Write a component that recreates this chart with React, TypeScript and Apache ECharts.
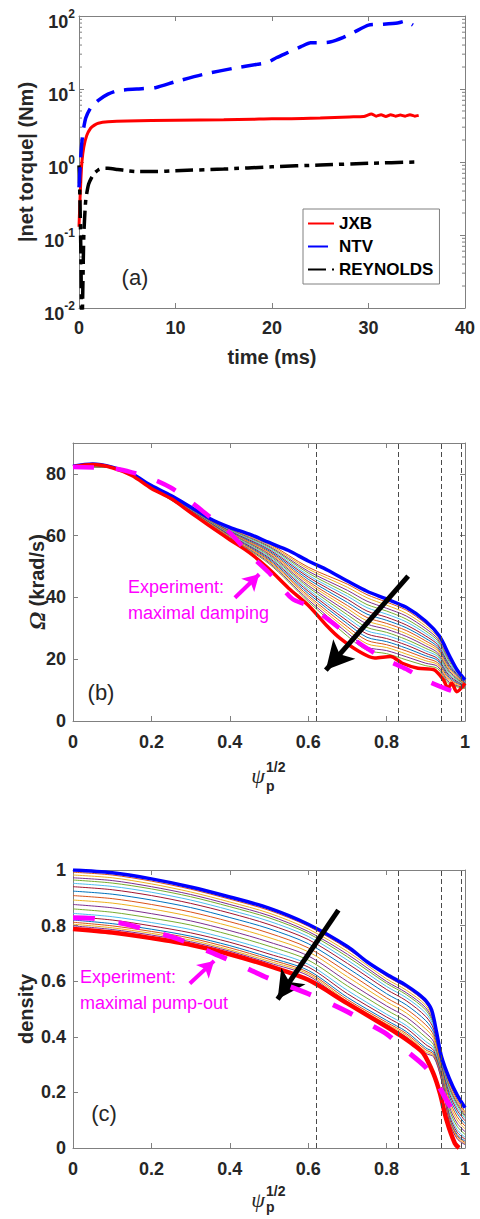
import React, { useEffect, useRef } from 'react';
import * as echarts from 'echarts';

// ---------------- Panel (a): |net torque| vs time ----------------
const timeTicks = [0, 10, 20, 30, 40];
const jxbTime = [0, 0.1, 0.2, 0.3, 0.5, 0.8, 1.2, 1.6, 2, 3, 5, 10, 15, 18, 20, 22, 25, 28, 29.5, 30.3, 30.8, 31.3, 31.8, 32.3, 32.8, 33.3, 33.8, 34.3, 34.8, 35.2];
const jxbTorque = [0.13, 0.3, 0.6, 1.0, 1.6, 2.3, 2.9, 3.2, 3.4, 3.55, 3.65, 3.72, 3.78, 3.85, 3.92, 3.92, 4.0, 4.15, 4.2, 4.55, 4.25, 4.45, 4.2, 4.45, 4.25, 4.4, 4.25, 4.45, 4.25, 4.35];
const ntvTime = [0, 0.2, 0.4, 0.7, 1.2, 2, 3, 4, 6, 8, 10, 13, 16, 18.5, 19.5, 20.5, 21.5, 23, 24, 25, 26, 27.4, 28.5, 30, 31.5, 33, 33.8, 34.6];
const ntvTorque = [0.45, 1.3, 2.5, 4, 5.5, 7, 8.5, 9.5, 10, 10.5, 12.6, 16, 19.2, 21.8, 23, 27, 31, 38, 43, 43, 44, 51, 60, 75, 77, 80, 85, 75];
const reyTime = [0, 0.1, 0.2, 0.3, 0.4, 0.5, 0.7, 1, 1.5, 2, 2.5, 3, 4, 5, 6, 8, 10, 15, 20, 25, 30, 35];
const reyTorque = [0.9, 0.3, 0.05, 0.004, 0.02, 0.1, 0.3, 0.5, 0.68, 0.78, 0.82, 0.82, 0.79, 0.76, 0.74, 0.74, 0.76, 0.8, 0.86, 0.91, 0.96, 1.0];
const logMinorTicks = [0.02, 0.03, 0.04, 0.05, 0.06, 0.07, 0.08, 0.09, 0.2, 0.3, 0.4, 0.5, 0.6, 0.7, 0.8, 0.9, 2, 3, 4, 5, 6, 7, 8, 9, 20, 30, 40, 50, 60, 70, 80, 90];

// ---------------- Panel (b): rotation profiles ----------------
const radialLines = [0.623, 0.833, 0.938, 0.995];
const omBlueX = [0, 0.05, 0.1, 0.15, 0.2, 0.25, 0.3, 0.35, 0.4, 0.45, 0.5, 0.55, 0.6, 0.65, 0.7, 0.75, 0.8, 0.85, 0.9, 0.935, 0.96, 0.98, 1.0];
const omBlue = [82.5, 83.2, 82.2, 80.0, 76.2, 73.0, 69.3, 65.5, 62.7, 60.5, 57.8, 55.2, 51.8, 48.8, 45.3, 42.0, 39.5, 36.8, 32.3, 27.4, 21.2, 16.5, 13.3];
const omRedX = [0, 0.05, 0.1, 0.15, 0.2, 0.25, 0.3, 0.35, 0.4, 0.45, 0.5, 0.55, 0.6, 0.65, 0.68, 0.73, 0.77, 0.81, 0.84, 0.88, 0.92, 0.945, 0.957, 0.966, 0.979, 1.0];
const omRed = [82.3, 83.0, 82.0, 79.5, 75.3, 72.0, 67.5, 63.0, 58.7, 54.5, 49.2, 43.0, 37.5, 30.5, 26.9, 22.5, 20.4, 20.9, 18.7, 17.1, 16.6, 13.3, 10.6, 12.2, 9.5, 12.2];
const omExpX = [0, 0.1, 0.15, 0.2, 0.25, 0.3, 0.35, 0.4, 0.45, 0.5, 0.53, 0.56, 0.6, 0.65, 0.7, 0.75, 0.8, 0.85, 0.9, 0.95, 1.0];
const omExp = [82.2, 81.8, 80.5, 78.5, 75.5, 71.0, 66.0, 61.0, 54.0, 48.0, 43.6, 39.5, 37.3, 33.0, 28.0, 23.5, 19.8, 16.8, 13.2, 10.5, 8.3];
const omThinX = [0, 0.1, 0.2, 0.3, 0.4, 0.5, 0.6, 0.7, 0.75, 0.8, 0.85, 0.9, 0.93, 0.96, 1.0];
const omThin = [
  [82.5, 82.2, 76.2, 69.2, 62.5, 57.4, 49.8, 44.3, 40.9, 38.5, 35.9, 31.5, 27.9, 20.7, 13.1],
  [82.5, 82.2, 76.1, 69.1, 62.3, 57.0, 49.2, 43.3, 39.9, 37.5, 34.9, 30.7, 27.2, 20.2, 12.9],
  [82.5, 82.2, 76.1, 69.0, 62.1, 56.6, 48.5, 42.3, 38.8, 36.5, 34.0, 29.9, 26.6, 19.7, 12.8],
  [82.5, 82.2, 76.0, 68.9, 61.9, 56.3, 47.9, 41.3, 37.7, 35.6, 33.0, 29.1, 26.0, 19.2, 12.6],
  [82.5, 82.2, 76.0, 68.8, 61.7, 55.9, 47.2, 40.4, 36.7, 34.6, 32.1, 28.3, 25.3, 18.6, 12.5],
  [82.5, 82.2, 75.9, 68.7, 61.5, 55.5, 46.6, 39.4, 35.6, 33.6, 31.1, 27.5, 24.7, 18.1, 12.3],
  [82.5, 82.2, 75.9, 68.6, 61.3, 55.1, 45.9, 38.4, 34.6, 32.6, 30.2, 26.7, 24.0, 17.6, 12.2],
  [82.5, 82.2, 75.8, 68.5, 61.1, 54.7, 45.2, 37.4, 33.5, 31.6, 29.3, 25.9, 23.4, 17.1, 12.0],
  [82.5, 82.2, 75.8, 68.4, 61.0, 54.3, 44.6, 36.4, 32.4, 30.6, 28.3, 25.1, 22.8, 16.6, 11.9],
  [82.4, 82.1, 75.7, 68.4, 60.8, 54.0, 43.9, 35.4, 31.4, 29.7, 27.4, 24.3, 22.1, 16.1, 11.7],
  [82.4, 82.1, 75.7, 68.3, 60.6, 53.6, 43.3, 34.4, 30.3, 28.7, 26.4, 23.5, 21.5, 15.6, 11.6],
  [82.4, 82.1, 75.6, 68.2, 60.4, 53.2, 42.6, 33.4, 29.2, 27.7, 25.5, 22.7, 20.9, 15.1, 11.4],
  [82.4, 82.1, 75.6, 68.1, 60.2, 52.8, 42.0, 32.4, 28.2, 26.7, 24.6, 21.9, 20.2, 14.6, 11.3],
  [82.4, 82.1, 75.5, 68.0, 60.0, 52.4, 41.3, 31.5, 27.1, 25.7, 23.6, 21.1, 19.6, 14.1, 11.1],
  [82.4, 82.1, 75.5, 67.9, 59.8, 52.0, 40.6, 30.5, 26.1, 24.7, 22.7, 20.3, 18.9, 13.6, 11.0],
  [82.4, 82.1, 75.4, 67.8, 59.6, 51.7, 40.0, 29.5, 25.0, 23.8, 21.7, 19.5, 18.3, 13.0, 10.8],
  [82.4, 82.1, 75.4, 67.7, 59.4, 51.3, 39.3, 28.5, 23.9, 22.8, 20.8, 18.7, 17.7, 12.5, 10.7],
  [82.4, 82.1, 75.3, 67.6, 59.2, 50.9, 38.7, 27.5, 22.9, 21.8, 19.8, 17.9, 17.0, 12.0, 10.5],
];
const omArrowBlack = [[0.855, 46.9], [0.645, 16.5]];
const omArrowExp = [[0.413, 39.9], [0.475, 47.5]];

// ---------------- Panel (c): density profiles ----------------
const denBlueX = [0, 0.1, 0.2, 0.3, 0.4, 0.5, 0.6, 0.7, 0.75, 0.8, 0.85, 0.88, 0.9, 0.915, 0.928, 0.94, 0.96, 0.98, 1.0];
const denBlue = [1.0, 0.99, 0.968, 0.939, 0.903, 0.863, 0.805, 0.725, 0.67, 0.625, 0.585, 0.555, 0.53, 0.496, 0.413, 0.329, 0.25, 0.19, 0.145];
const denRedX = [0, 0.1, 0.2, 0.3, 0.4, 0.5, 0.6, 0.7, 0.8, 0.834, 0.87, 0.894, 0.919, 0.936, 0.953, 0.974, 0.985];
const denRed = [0.788, 0.775, 0.755, 0.731, 0.697, 0.655, 0.605, 0.52, 0.436, 0.406, 0.37, 0.34, 0.269, 0.197, 0.1, 0.017, 0.0];
const denExpX = [0, 0.05, 0.1, 0.15, 0.2, 0.25, 0.3, 0.35, 0.4, 0.5, 0.6, 0.7, 0.75, 0.8, 0.85, 0.9, 0.93, 0.96, 1.0];
const denExp = [0.828, 0.826, 0.815, 0.8, 0.78, 0.76, 0.735, 0.705, 0.675, 0.61, 0.555, 0.49, 0.45, 0.41, 0.35, 0.29, 0.23, 0.155, 0.08];
const denThinX = [0, 0.1, 0.2, 0.3, 0.4, 0.5, 0.6, 0.7, 0.8, 0.85, 0.9, 0.92, 0.94, 0.96, 0.98, 1.0];
const denThin = [
  [0.992, 0.982, 0.960, 0.931, 0.895, 0.855, 0.798, 0.717, 0.618, 0.578, 0.522, 0.464, 0.317, 0.234, 0.174, 0.130],
  [0.982, 0.972, 0.950, 0.921, 0.885, 0.845, 0.788, 0.707, 0.608, 0.568, 0.513, 0.457, 0.313, 0.227, 0.167, 0.124],
  [0.972, 0.962, 0.940, 0.912, 0.876, 0.836, 0.779, 0.697, 0.599, 0.559, 0.504, 0.450, 0.309, 0.220, 0.160, 0.118],
  [0.964, 0.953, 0.932, 0.904, 0.868, 0.828, 0.772, 0.688, 0.592, 0.552, 0.496, 0.444, 0.306, 0.214, 0.154, 0.113],
  [0.952, 0.941, 0.920, 0.892, 0.856, 0.816, 0.761, 0.676, 0.581, 0.541, 0.485, 0.436, 0.302, 0.205, 0.145, 0.106],
  [0.940, 0.929, 0.908, 0.880, 0.845, 0.804, 0.750, 0.664, 0.570, 0.530, 0.473, 0.428, 0.297, 0.196, 0.136, 0.098],
  [0.924, 0.913, 0.892, 0.865, 0.829, 0.789, 0.735, 0.648, 0.555, 0.515, 0.458, 0.416, 0.291, 0.185, 0.125, 0.088],
  [0.908, 0.897, 0.876, 0.849, 0.814, 0.773, 0.720, 0.632, 0.540, 0.500, 0.443, 0.405, 0.285, 0.173, 0.113, 0.079],
  [0.892, 0.881, 0.860, 0.833, 0.798, 0.757, 0.706, 0.616, 0.526, 0.486, 0.428, 0.394, 0.279, 0.161, 0.101, 0.069],
  [0.876, 0.864, 0.843, 0.817, 0.782, 0.741, 0.691, 0.599, 0.511, 0.471, 0.413, 0.382, 0.273, 0.149, 0.089, 0.059],
  [0.860, 0.848, 0.827, 0.802, 0.767, 0.726, 0.676, 0.583, 0.496, 0.456, 0.398, 0.371, 0.267, 0.138, 0.078, 0.049],
  [0.844, 0.832, 0.811, 0.786, 0.751, 0.710, 0.661, 0.567, 0.481, 0.441, 0.383, 0.360, 0.261, 0.126, 0.066, 0.039],
  [0.832, 0.820, 0.799, 0.774, 0.740, 0.698, 0.651, 0.555, 0.471, 0.431, 0.372, 0.351, 0.257, 0.117, 0.057, 0.032],
  [0.820, 0.807, 0.787, 0.762, 0.728, 0.686, 0.639, 0.542, 0.459, 0.419, 0.360, 0.343, 0.252, 0.108, 0.048, 0.025],
  [0.812, 0.799, 0.779, 0.755, 0.720, 0.679, 0.632, 0.534, 0.452, 0.412, 0.353, 0.337, 0.249, 0.103, 0.043, 0.020],
  [0.805, 0.792, 0.772, 0.748, 0.713, 0.672, 0.626, 0.527, 0.446, 0.406, 0.346, 0.332, 0.246, 0.097, 0.037, 0.015],
  [0.799, 0.786, 0.766, 0.742, 0.708, 0.666, 0.620, 0.521, 0.440, 0.400, 0.340, 0.328, 0.244, 0.093, 0.033, 0.012],
];
const denArrowBlack = [[0.677, 0.856], [0.522, 0.535]];
const denArrowExp = [[0.298, 0.592], [0.36, 0.673]];

const matlabOrder = ['#D95319', '#EDB120', '#7E2F8E', '#77AC30', '#4DBEEE', '#A2142F', '#0072BD'];

const FONT = 'Liberation Sans, Arial, Helvetica, sans-serif';
const AXIS = '#808080';
const LABEL = '#262626';

const zip = (xs: number[], ys: number[]) => xs.map((x, i) => [x, ys[i]]);

function boxAxes(gridIndex: number, kind: 'x' | 'y', main: any, extra: any) {
  const common = {
    gridIndex,
    axisLine: { show: true, onZero: false, lineStyle: { color: AXIS, width: 1 } },
    axisTick: { show: true, inside: true, length: 5, lineStyle: { color: AXIS, width: 1 } },
    splitLine: { show: false },
    nameMoveOverlap: false,
    ...main,
  };
  const primary = {
    ...common,
    position: kind === 'x' ? 'bottom' : 'left',
    ...extra,
  };
  const mirror = {
    ...common,
    position: kind === 'x' ? 'top' : 'right',
    axisLabel: { show: false },
    name: '',
  };
  return [primary, mirror];
}

const tickLabel = (margin: number) => ({
  margin,
  fontFamily: FONT,
  fontWeight: 'bold',
  fontSize: 18,
  color: LABEL,
});

const titleStyle = { fontFamily: FONT, fontWeight: 'bold', fontSize: 20, color: LABEL };

export default function App() {
  const ref = useRef<HTMLDivElement>(null);

  useEffect(() => {
    if (!ref.current) return;
    const chart = echarts.init(ref.current, undefined, { renderer: 'svg' });

    const gA = { left: 79, top: 16, width: 386, height: 292 };
    const gB = { left: 73, top: 443, width: 392, height: 278 };
    const gC = { left: 73, top: 870, width: 392, height: 278 };

    const xA = boxAxes(0, 'x', { type: 'value', min: timeTicks[0], max: timeTicks[timeTicks.length - 1], interval: 10 }, {
      axisLabel: tickLabel(11),
      name: 'time (ms)', nameLocation: 'middle', nameGap: 39, nameTextStyle: titleStyle,
    });
    const yA = boxAxes(0, 'y', { type: 'log', logBase: 10, min: 0.01, max: 100 }, {
      axisLabel: {
        margin: 4,
        formatter: (v: number) => '{b|10}{s|' + Math.round(Math.log10(v)) + '}',
        rich: {
          b: { fontFamily: FONT, fontWeight: 'bold', fontSize: 18, color: LABEL, padding: [12, 0, 0, 0] },
          s: { fontFamily: FONT, fontWeight: 'bold', fontSize: 12, color: LABEL, padding: [0, 0, 4, 0] },
        },
      },
      name: '|net torque| (Nm)', nameLocation: 'middle', nameGap: 43, nameTextStyle: titleStyle,
    });
    const xB = boxAxes(1, 'x', { type: 'value', min: 0, max: 1, interval: 0.2 }, {
      axisLabel: tickLabel(12),
    });
    const yB = boxAxes(1, 'y', { type: 'value', min: 0, max: 90, interval: 20 }, {
      axisLabel: { ...tickLabel(7), showMaxLabel: false },
      name: '{o|Ω} (krad/s)', nameLocation: 'middle', nameGap: 24,
      nameTextStyle: {
        ...titleStyle,
        rich: {
          o: { fontFamily: 'Liberation Serif, serif', fontStyle: 'italic', fontSize: 24, color: LABEL },
        },
      },
    });
    const xC = boxAxes(2, 'x', { type: 'value', min: 0, max: 1, interval: 0.2 }, {
      axisLabel: tickLabel(12),
    });
    const yC = boxAxes(2, 'y', { type: 'value', min: 0, max: 1, interval: 0.2 }, {
      axisLabel: tickLabel(7),
      name: 'density', nameLocation: 'middle', nameGap: 37, nameTextStyle: titleStyle,
    });

    const series: any[] = [];

    // Panel (a)
    series.push({
      type: 'custom', xAxisIndex: 0, yAxisIndex: 0, silent: true, z: 1,
      data: logMinorTicks.map((v) => [0, v]),
      renderItem: (params: any, api: any) => {
        const p = api.coord([api.value(0), api.value(1)]);
        const cs = params.coordSys;
        const L = cs.x;
        const R = cs.x + cs.width;
        return {
          type: 'group',
          children: [
            { type: 'line', shape: { x1: L, y1: p[1], x2: L + 3, y2: p[1] }, style: { stroke: AXIS, lineWidth: 1 } },
            { type: 'line', shape: { x1: R - 3, y1: p[1], x2: R, y2: p[1] }, style: { stroke: AXIS, lineWidth: 1 } },
          ],
        };
      },
    });
    series.push({
      name: 'JXB', type: 'line', xAxisIndex: 0, yAxisIndex: 0, data: zip(jxbTime, jxbTorque),
      symbol: 'none', smooth: 0.2, color: '#FF0000', lineStyle: { color: '#FF0000', width: 3 }, z: 3,
    });
    series.push({
      name: 'NTV', type: 'line', xAxisIndex: 0, yAxisIndex: 0, data: zip(ntvTime, ntvTorque),
      symbol: 'none', smooth: 0.2, color: '#0000FF', lineStyle: { color: '#0000FF', width: 3.5, type: [20, 10] }, z: 4,
    });
    series.push({
      name: 'REYNOLDS', type: 'line', xAxisIndex: 0, yAxisIndex: 0, data: zip(reyTime, reyTorque),
      symbol: 'none', smooth: 0.2, color: '#000000', lineStyle: { color: '#000000', width: 3.5, type: [18, 6, 5, 6] }, z: 3,
    });

    const vLines = {
      silent: true, symbol: ['none', 'none'], label: { show: false },
      lineStyle: { color: '#4a4a4a', width: 1, type: [5, 3] },
      emphasis: { disabled: true },
      data: radialLines.map((v) => ({ xAxis: v })),
    };
    const arrow = (from: number[], to: number[], color: string, width: number, size: number[]) => ({
      silent: true, symbol: ['none', 'arrow'], symbolSize: size, label: { show: false },
      lineStyle: { color, width, type: 'solid' },
      emphasis: { disabled: true },
      data: [[{ coord: from }, { coord: to }]],
    });

    // Panel (b)
    omThin.forEach((row, k) => {
      series.push({
        type: 'line', xAxisIndex: 2, yAxisIndex: 2, data: zip(omThinX, row), symbol: 'none', smooth: 0.3,
        silent: true, lineStyle: { color: matlabOrder[k % 7], width: 1 }, z: 2,
      });
    });
    series.push({
      type: 'line', xAxisIndex: 2, yAxisIndex: 2, data: zip(omBlueX, omBlue), symbol: 'none', smooth: 0.3,
      silent: true, lineStyle: { color: '#0000FF', width: 3.5 }, z: 3, markLine: vLines,
    });
    series.push({
      type: 'line', xAxisIndex: 2, yAxisIndex: 2, data: zip(omRedX, omRed), symbol: 'none', smooth: 0.3,
      silent: true, lineStyle: { color: '#FF0000', width: 3.5 }, z: 4,
      markLine: arrow(omArrowBlack[0], omArrowBlack[1], '#000000', 5, [22, 28]),
    });
    series.push({
      type: 'line', xAxisIndex: 2, yAxisIndex: 2, data: zip(omExpX, omExp), symbol: 'none', smooth: 0.3,
      silent: true, lineStyle: { color: '#FF00FF', width: 4.5, type: [21, 22] }, z: 5,
      markLine: arrow(omArrowExp[0], omArrowExp[1], '#FF00FF', 4, [14, 16]),
    });

    // Panel (c)
    denThin.forEach((row, k) => {
      series.push({
        type: 'line', xAxisIndex: 4, yAxisIndex: 4, data: zip(denThinX, row), symbol: 'none', smooth: 0.3,
        silent: true, lineStyle: { color: matlabOrder[k % 7], width: 1 }, z: 2,
      });
    });
    series.push({
      type: 'line', xAxisIndex: 4, yAxisIndex: 4, data: zip(denBlueX, denBlue), symbol: 'none', smooth: 0.3,
      silent: true, lineStyle: { color: '#0000FF', width: 3.5 }, z: 3, markLine: vLines,
    });
    series.push({
      type: 'line', xAxisIndex: 4, yAxisIndex: 4, data: zip(denRedX, denRed), symbol: 'none', smooth: 0.3,
      silent: true, lineStyle: { color: '#FF0000', width: 4.5 }, z: 4,
      markLine: arrow(denArrowBlack[0], denArrowBlack[1], '#000000', 5, [22, 28]),
    });
    series.push({
      type: 'line', xAxisIndex: 4, yAxisIndex: 4, data: zip(denExpX, denExp), symbol: 'none', smooth: 0.3,
      silent: true, lineStyle: { color: '#FF00FF', width: 5, type: [22, 24] }, z: 5,
      markLine: arrow(denArrowExp[0], denArrowExp[1], '#FF00FF', 4, [14, 16]),
    });

    const txt = (text: string, x: number, y: number, size: number, extra: any = {}) => ({
      type: 'text', x, y, silent: true, z: 50,
      style: { text, fontFamily: FONT, fontSize: size, fill: LABEL, align: 'left', verticalAlign: 'middle', ...extra },
    });
    const psiLabel = (cx: number, cy: number, dy: number) => [
      txt('ψ', cx, cy, 22, { fontFamily: 'Liberation Serif, serif', fontStyle: 'italic', align: 'center' }),
      txt('1/2', cx + 8, cy - 8, 14, { fontWeight: 'bold' }),
      txt('p', cx + 8, cy + dy, 14, { fontWeight: 'bold' }),
    ];

    const graphic = [
      txt('(a)', 135, 277, 22, { align: 'center' }),
      txt('(b)', 101, 692, 22, { align: 'center' }),
      txt('(c)', 104, 1113, 22, { align: 'center' }),
      txt('Experiment:', 128, 587, 18, { fill: '#FF00FF' }),
      txt('maximal damping', 128, 613, 18, { fill: '#FF00FF' }),
      txt('Experiment:', 80, 977, 18, { fill: '#FF00FF' }),
      txt('maximal pump-out', 80, 1003, 18, { fill: '#FF00FF' }),
      ...psiLabel(258, 775, 11),
      ...psiLabel(258, 1199, 8),
    ];

    chart.setOption({
      animation: false,
      backgroundColor: '#ffffff',
      grid: [gA, gB, gC].map((g) => ({ ...g, containLabel: false })),
      xAxis: [...xA, ...xB, ...xC],
      yAxis: [...yA, ...yB, ...yC],
      legend: {
        data: ['JXB', 'NTV', 'REYNOLDS'],
        orient: 'vertical', left: 303, top: 209,
        itemWidth: 26, itemHeight: 12, itemGap: 6,
        padding: [6, 6, 6, 4],
        borderColor: AXIS, borderWidth: 1, backgroundColor: '#ffffff',
        selectedMode: false,
        itemStyle: { opacity: 0, borderWidth: 0 },
        textStyle: { fontFamily: FONT, fontWeight: 'bold', fontSize: 17, color: '#000000' },
      },
      series,
      graphic,
    });

    return () => chart.dispose();
  }, []);

  return (
    <div
      ref={ref}
      style={{ position: 'absolute', left: 0, top: 0, width: 480, height: 1219, background: '#fff' }}
    />
  );
}
